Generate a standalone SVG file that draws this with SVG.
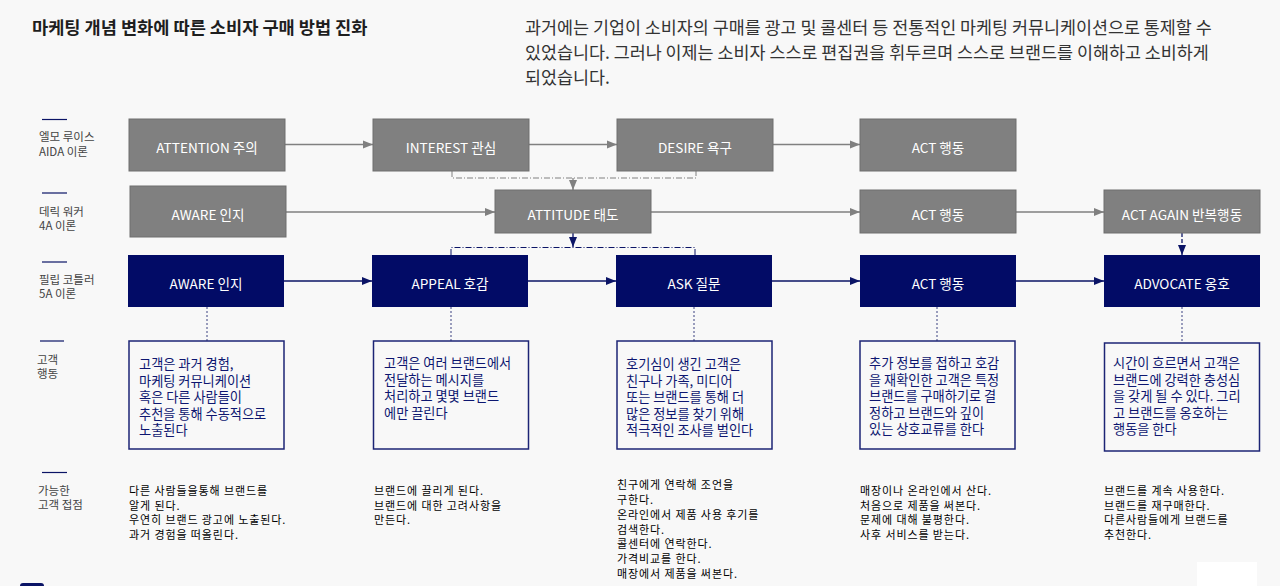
<svg xmlns="http://www.w3.org/2000/svg" width="1280" height="586" viewBox="0 0 1280 586">
<style>
text{font-family:"Noto Sans CJK KR","Noto Sans",sans-serif}
.title{font-size:17.6px;font-weight:bold;fill:#1e1e1e}
.para{font-size:17.4px;fill:#333}
.lbl{font-size:11.5px;fill:#444}
.lline{stroke:#0b1466;stroke-width:1.2}
.gbox{fill:#808080;stroke:#6e6e6e;stroke-width:1}
.nbox{fill:#020b66}
.ntext{font-size:13.6px;fill:#fff;text-anchor:middle}
.tbox{fill:none;stroke:#1c2475;stroke-width:1.5}
.btext{font-size:13.2px;fill:#0d1670}
.tp{font-size:11px;letter-spacing:0.9px;fill:#000}
.ga{stroke:#808080;stroke-width:1.3;fill:none}
.na{stroke:#0b1466;stroke-width:1.3;fill:none}
.gdd{stroke:#808080;stroke-width:1;fill:none;stroke-dasharray:6 2 1 2}
.ndd{stroke:#0b1466;stroke-width:1;fill:none;stroke-dasharray:6 2 1 2}
.dot{stroke:#3a4180;stroke-width:1;fill:none;stroke-dasharray:2 2}
</style>
<defs>
<marker id="ag" markerUnits="userSpaceOnUse" markerWidth="10" markerHeight="10" viewBox="0 0 10 10" refX="10" refY="5" orient="auto"><path d="M0,1 L10,5 L0,9 Z" fill="#808080"/></marker>
<marker id="an" markerUnits="userSpaceOnUse" markerWidth="10" markerHeight="10" viewBox="0 0 10 10" refX="10" refY="5" orient="auto"><path d="M0,1 L10,5 L0,9 Z" fill="#0b1466"/></marker>
</defs>
<rect width="1280" height="586" fill="#f8f8f8"/>
<text class="title" x="32" y="34">마케팅 개념 변화에 따른 소비자 구매 방법 진화</text>
<text class="para" x="525" y="34">과거에는 기업이 소비자의 구매를 광고 및 콜센터 등 전통적인 마케팅 커뮤니케이션으로 통제할 수</text>
<text class="para" x="525" y="59">있었습니다. 그러나 이제는 소비자 스스로 편집권을 휘두르며 스스로 브랜드를 이해하고 소비하게</text>
<text class="para" x="525" y="84">되었습니다.</text>

<g id="row-labels">
<line class="lline" x1="42" y1="119.5" x2="67" y2="119.5"/>
<text class="lbl" x="39" y="141">엘모 루이스</text>
<text class="lbl" x="39" y="156">AIDA  이론</text>
<line class="lline" x1="42" y1="193" x2="67" y2="193"/>
<text class="lbl" x="39" y="216">데릭 워커</text>
<text class="lbl" x="39" y="230">4A 이론</text>
<line class="lline" x1="42" y1="262" x2="67" y2="262"/>
<text class="lbl" x="39" y="284">필립 코틀러</text>
<text class="lbl" x="39" y="298">5A 이론</text>
<line class="lline" x1="40" y1="341" x2="64" y2="341"/>
<text class="lbl" x="37" y="364">고객</text>
<text class="lbl" x="37" y="378">행동</text>
<line class="lline" x1="42" y1="472.5" x2="67" y2="472.5"/>
<text class="lbl" x="38" y="495">가능한</text>
<text class="lbl" x="38" y="509">고객 접점</text>
</g>

<g id="connectors">
<path class="ga" d="M285,144.5 H373" marker-end="url(#ag)"/>
<path class="ga" d="M529,144.5 H617" marker-end="url(#ag)"/>
<path class="ga" d="M773,144.5 H860" marker-end="url(#ag)"/>
<path class="ga" d="M286,212 H495" marker-end="url(#ag)"/>
<path class="ga" d="M651,212 H860" marker-end="url(#ag)"/>
<path class="ga" d="M1016,212 H1104" marker-end="url(#ag)"/>
<path class="na" d="M284,281 H372" marker-end="url(#an)"/>
<path class="na" d="M528,281 H616" marker-end="url(#an)"/>
<path class="na" d="M772,281 H860" marker-end="url(#an)"/>
<path class="na" d="M1016,281 H1104" marker-end="url(#an)"/>
<path class="gdd" d="M452,171 V178 H696 V171"/>
<path class="ga" d="M573,178 V190" marker-end="url(#ag)"/>
<path class="ndd" d="M451,255 V247.5 H695 V255"/>
<path class="na" d="M573,233 V247" marker-end="url(#an)"/>
<path class="na" d="M1182,233 V255" stroke-dasharray="4 2" marker-end="url(#an)"/>
<path class="dot" d="M207,307 V341"/>
<path class="dot" d="M451,307 V341"/>
<path class="dot" d="M694,307 V341"/>
<path class="dot" d="M937,307 V341"/>
<path class="dot" d="M1182,307 V343"/>
</g>

<g id="n-attention"><rect class="gbox" x="129" y="119" width="156" height="52"/><text class="ntext" x="207" y="152.5">ATTENTION 주의</text></g>
<g id="n-interest"><rect class="gbox" x="373" y="119" width="156" height="52"/><text class="ntext" x="451" y="152.5">INTEREST 관심</text></g>
<g id="n-desire"><rect class="gbox" x="617" y="119" width="156" height="52"/><text class="ntext" x="695" y="152.5">DESIRE 욕구</text></g>
<g id="n-act1"><rect class="gbox" x="860" y="119" width="156" height="52"/><text class="ntext" x="938" y="152.5">ACT 행동</text></g>

<g id="n-aware4a"><rect class="gbox" x="130" y="186" width="156" height="51"/><text class="ntext" x="208" y="220">AWARE 인지</text></g>
<g id="n-attitude"><rect class="gbox" x="495" y="190" width="156" height="43"/><text class="ntext" x="573" y="220">ATTITUDE 태도</text></g>
<g id="n-act2"><rect class="gbox" x="860" y="190" width="156" height="43"/><text class="ntext" x="938" y="220">ACT 행동</text></g>
<g id="n-actagain"><rect class="gbox" x="1104" y="190" width="156" height="43"/><text class="ntext" x="1182" y="220">ACT AGAIN 반복행동</text></g>

<g id="n-aware5a"><rect class="nbox" x="128" y="255" width="156" height="52"/><text class="ntext" x="206" y="289">AWARE 인지</text></g>
<g id="n-appeal"><rect class="nbox" x="372" y="255" width="156" height="52"/><text class="ntext" x="450" y="289">APPEAL 호감</text></g>
<g id="n-ask"><rect class="nbox" x="616" y="255" width="156" height="52"/><text class="ntext" x="694" y="289">ASK 질문</text></g>
<g id="n-act3"><rect class="nbox" x="860" y="255" width="156" height="52"/><text class="ntext" x="938" y="289">ACT 행동</text></g>
<g id="n-advocate"><rect class="nbox" x="1104" y="255" width="156" height="52"/><text class="ntext" x="1182" y="289">ADVOCATE 옹호</text></g>

<g id="b-aware"><rect class="tbox" x="129" y="341" width="155" height="108"/>
<text class="btext" x="139" y="369">고객은 과거 경험,</text>
<text class="btext" x="139" y="385.5">마케팅 커뮤니케이션</text>
<text class="btext" x="139" y="402">혹은 다른 사람들이</text>
<text class="btext" x="139" y="418.5">추천을 통해 수동적으로</text>
<text class="btext" x="139" y="435">노출된다</text></g>
<g id="b-appeal"><rect class="tbox" x="373.5" y="341" width="155" height="108"/>
<text class="btext" x="384" y="368">고객은 여러 브랜드에서</text>
<text class="btext" x="384" y="384.5">전달하는 메시지를</text>
<text class="btext" x="384" y="401">처리하고 몇몇 브랜드</text>
<text class="btext" x="384" y="417.5">에만 끌린다</text></g>
<g id="b-ask"><rect class="tbox" x="617" y="341" width="155" height="108"/>
<text class="btext" x="626" y="369">호기심이 생긴 고객은</text>
<text class="btext" x="626" y="385.5">친구나 가족, 미디어</text>
<text class="btext" x="626" y="402">또는 브랜드를 통해 더</text>
<text class="btext" x="626" y="418.5">많은 정보를 찾기 위해</text>
<text class="btext" x="626" y="435">적극적인 조사를 벌인다</text></g>
<g id="b-act"><rect class="tbox" x="860" y="341" width="155" height="108"/>
<text class="btext" x="869" y="368">추가 정보를 접하고 호감</text>
<text class="btext" x="869" y="384.5">을 재확인한 고객은 특정</text>
<text class="btext" x="869" y="401">브랜드를 구매하기로 결</text>
<text class="btext" x="869" y="417.5">정하고 브랜드와 깊이</text>
<text class="btext" x="869" y="434">있는 상호교류를 한다</text></g>
<g id="b-advocate"><rect class="tbox" x="1104.5" y="343" width="155" height="108"/>
<text class="btext" x="1113" y="368">시간이 흐르면서 고객은</text>
<text class="btext" x="1113" y="384.5">브랜드에 강력한 충성심</text>
<text class="btext" x="1113" y="401">을 갖게 될 수 있다. 그리</text>
<text class="btext" x="1113" y="417.5">고 브랜드를 옹호하는</text>
<text class="btext" x="1113" y="434">행동을 한다</text></g>

<g id="touchpoints">
<text class="tp" x="129" y="494.5">다른 사람들을통해 브랜드를</text>
<text class="tp" x="129" y="509.5">알게 된다.</text>
<text class="tp" x="129" y="524">우연히 브랜드 광고에 노출된다.</text>
<text class="tp" x="129" y="539">과거 경험을 떠올린다.</text>
<text class="tp" x="374" y="494.5">브랜드에 끌리게 된다.</text>
<text class="tp" x="374" y="509.5">브랜드에 대한 고려사항을</text>
<text class="tp" x="374" y="524">만든다.</text>
<text class="tp" x="617" y="488.5">친구에게 연락해 조언을</text>
<text class="tp" x="617" y="503.5">구한다.</text>
<text class="tp" x="617" y="518.5">온라인에서 제품 사용 후기를</text>
<text class="tp" x="617" y="533.5">검색한다.</text>
<text class="tp" x="617" y="548">콜센터에 연락한다.</text>
<text class="tp" x="617" y="563">가격비교를 한다.</text>
<text class="tp" x="617" y="578">매장에서 제품을 써본다.</text>
<text class="tp" x="860" y="494.5">매장이나 온라인에서 산다.</text>
<text class="tp" x="860" y="509.5">처음으로 제품을 써본다.</text>
<text class="tp" x="860" y="524">문제에 대해 불평한다.</text>
<text class="tp" x="860" y="539">사후 서비스를 받는다.</text>
<text class="tp" x="1104" y="494.5">브랜드를 계속 사용한다.</text>
<text class="tp" x="1104" y="509.5">브랜드를 재구매한다.</text>
<text class="tp" x="1104" y="524">다른사람들에게 브랜드를</text>
<text class="tp" x="1104" y="539">추천한다.</text>
</g>
<rect x="1197" y="562" width="60" height="24" fill="#ffffff"/>
<rect x="20" y="583" width="24" height="10" rx="3" fill="#0b1466"/>
</svg>
